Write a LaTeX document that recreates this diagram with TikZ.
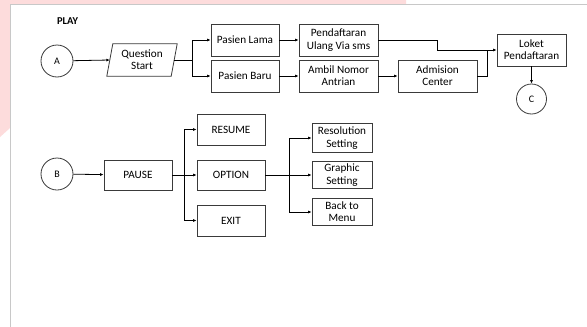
\documentclass[tikz,border=0pt]{standalone}
\usepackage{fontspec}
\setmainfont{Carlito}
\usetikzlibrary{arrows.meta,calc}
\definecolor{pinkbg}{HTML}{FDDCDC}
\definecolor{pageline}{HTML}{C8C8C8}
\definecolor{boxline}{HTML}{3A3A3A}
\begin{document}
\begin{tikzpicture}[x=1pt,y=-1pt,
  every node/.style={font=\fontsize{11.2}{12.2}\selectfont, inner sep=0pt, align=center},
  boxnode/.style={draw=boxline, line width=0.8pt, rectangle},
  circnode/.style={draw=boxline, line width=0.8pt, circle, font=\fontsize{10}{11}\selectfont},
  conn/.style={line width=0.8pt, black},
  arr/.style={conn, -{Latex[length=3.5pt,width=3pt]}}]
% background
\useasboundingbox (0,0) rectangle (587,327);
\fill[white] (0,0) rectangle (587,327);
\fill[pinkbg] (0,0) -- (406,0) -- (406,4) -- (10,4) -- (10,128) -- (0,137) -- cycle;
\draw[pageline, line width=0.8pt] (587,4.5) -- (10.5,4.5) -- (10.5,327);
% title
\node[font=\bfseries\fontsize{10.5}{12}\selectfont] (play) at (67.5,21) {PLAY};
% upper flow
\node[circnode, minimum size=32pt] (A) at (57,61) {A};
\node[minimum width=64pt, minimum height=32pt] (qs) at (142,60) {Question\\Start};
\draw[boxline, line width=0.8pt] ($(qs.north west)+(3,0)$) -- ($(qs.north east)+(3,0)$) -- ($(qs.south east)+(-3,0)$) -- ($(qs.south west)+(-3,0)$) -- cycle;
\node[boxnode, minimum width=68pt, minimum height=32pt] (pl) at (245,40) {Pasien Lama};
\node[boxnode, minimum width=68pt, minimum height=32pt] (pb) at (245,76) {Pasien Baru};
\node[boxnode, minimum width=79pt, minimum height=32pt] (pend) at (338.5,40) {Pendaftaran\\Ulang Via sms};
\node[boxnode, minimum width=79pt, minimum height=32pt] (ambil) at (338.5,76) {Ambil Nomor\\Antrian};
\node[boxnode, minimum width=79pt, minimum height=32pt] (adm) at (437.5,76) {Admision\\Center};
\node[boxnode, minimum width=69pt, minimum height=32pt] (loket) at (531.5,50) {Loket\\Pendaftaran};
\node[circnode, minimum size=30pt] (C) at (531.5,99) {C};
\coordinate (s1) at (192,60);
\coordinate (j1) at (437,50);
\coordinate (j2) at (487,50);
\draw[arr] (A) -- (qs.west);
\draw[conn] (qs.east) -- (s1);
\draw[arr] (s1) |- (pl.west);
\draw[arr] (s1) |- (pb.west);
\draw[arr] (pl) -- (pend);
\draw[arr] (pb) -- (ambil);
\draw[arr] (ambil) -- (adm);
\draw[arr] (pend.east) -| (j1) -- (loket.west);
\draw[conn] (adm.east) -| (j2);
\draw[arr] (loket) -- (C);
% lower flow
\node[circnode, minimum size=32pt] (B) at (57,174) {B};
\node[boxnode, minimum width=68pt, minimum height=30pt] (pause) at (138,175) {PAUSE};
\node[boxnode, minimum width=68pt, minimum height=31pt] (resume) at (231,129.5) {RESUME};
\node[boxnode, minimum width=68pt, minimum height=30pt] (option) at (231,175) {OPTION};
\node[boxnode, minimum width=68pt, minimum height=31pt] (exit) at (231,220.5) {EXIT};
\node[boxnode, minimum width=60pt, minimum height=29pt] (res) at (342,138) {Resolution\\Setting};
\node[boxnode, minimum width=60pt, minimum height=27pt] (gra) at (342,175) {Graphic\\Setting};
\node[boxnode, minimum width=60pt, minimum height=27pt] (back) at (342,212) {Back to\\Menu};
\coordinate (s2) at (184,175);
\coordinate (s3) at (289,175);
\draw[arr] (B) -- (pause);
\draw[conn] (pause.east) -- (s2);
\draw[arr] (s2) |- (resume.west);
\draw[arr] (s2) -- (option.west);
\draw[arr] (s2) |- (exit.west);
\draw[conn] (option.east) -- (s3);
\draw[arr] (s3) |- (res.west);
\draw[arr] (s3) -- (gra.west);
\draw[arr] (s3) |- (back.west);
\end{tikzpicture}
\end{document}
